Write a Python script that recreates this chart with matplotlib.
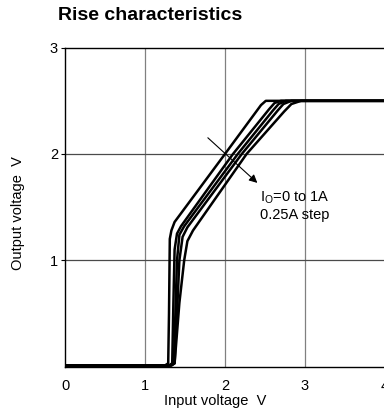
import matplotlib
matplotlib.use("Agg")
import matplotlib.pyplot as plt

plt.rcParams['font.family'] = ['Liberation Sans', 'DejaVu Sans']
plt.rcParams['mathtext.fontset'] = 'custom'
plt.rcParams['mathtext.rm'] = 'Liberation Sans'

title = "Rise characteristics"
xlabel = "Input voltage  V"
ylabel = "Output voltage  V"
xticks = [0, 1, 2, 3, 4]
yticks = [1, 2, 3]

# Io = 0 A
x_io0 = [0, 1.25, 1.29, 1.30, 1.31, 1.33, 1.37, 2.00, 2.45, 2.51, 2.57, 4.2]
y_io0 = [0.01, 0.01, 0.03, 0.50, 1.20, 1.28, 1.36, 2.00, 2.46, 2.50, 2.50, 2.50]
# Io = 0.25 A
x_io1 = [0, 1.30, 1.34, 1.355, 1.37, 1.40, 1.45, 2.10, 2.55, 2.62, 2.70, 4.2]
y_io1 = [0.01, 0.01, 0.03, 0.60, 1.10, 1.25, 1.32, 2.00, 2.42, 2.48, 2.50, 2.50]
# Io = 0.5 A
x_io2 = [0, 1.32, 1.36, 1.38, 1.40, 1.43, 1.49, 2.16, 2.60, 2.67, 2.76, 4.2]
y_io2 = [0.01, 0.01, 0.03, 0.50, 1.00, 1.24, 1.32, 2.00, 2.41, 2.47, 2.50, 2.50]
# Io = 0.75 A
x_io3 = [0, 1.33, 1.37, 1.40, 1.43, 1.47, 1.53, 2.21, 2.66, 2.73, 2.83, 4.2]
y_io3 = [0.01, 0.01, 0.03, 0.50, 1.00, 1.22, 1.31, 2.00, 2.41, 2.47, 2.50, 2.50]
# Io = 1 A
x_io4 = [0, 1.33, 1.37, 1.43, 1.49, 1.53, 1.60, 2.27, 2.74, 2.83, 2.95, 4.2]
y_io4 = [0.01, 0.01, 0.03, 0.60, 1.00, 1.18, 1.28, 2.00, 2.40, 2.47, 2.50, 2.50]

curves = [(x_io0, y_io0), (x_io1, y_io1), (x_io2, y_io2), (x_io3, y_io3), (x_io4, y_io4)]

W, H = 384, 412
fig = plt.figure(figsize=(W / 100, H / 100), dpi=100)
ax = fig.add_axes([65 / W, (H - 366.5) / H, 320 / W, (366.5 - 47.7) / H])

for xv in [1, 2, 3]:
    ax.axvline(xv, color='#808080', lw=0.9, zorder=1)
for yv in [1, 2]:
    ax.axhline(yv, color='#4a4a4a', lw=0.9, zorder=1)

for xs, ys in curves:
    ax.plot(xs, ys, color='black', lw=1.8, solid_joinstyle='round', zorder=3)

ax.set_xlim(0, 4)
ax.set_ylim(0, 3)
ax.set_xticks(xticks)
ax.set_yticks(yticks)
ax.set_xticklabels([str(t) for t in xticks])
ax.set_yticklabels([str(t) for t in yticks])
ax.tick_params(axis='x', length=0, pad=9, labelsize=10.5)
ax.tick_params(axis='y', length=3, width=0.8, pad=2, labelsize=10.5, direction='out')
for s in ax.spines.values():
    s.set_linewidth(1.0)
    s.set_color('black')

ax.annotate('', xy=(2.43, 1.71), xytext=(1.76, 2.17),
            arrowprops=dict(arrowstyle='-|>', lw=0.8, color='black', mutation_scale=12))
ax.text(2.44, 1.585, r"I$_{\rm O}$=0 to 1A", fontsize=10.5, va='center', ha='left')
ax.text(2.44, 1.425, "0.25A step", fontsize=10.5, va='center', ha='left')

fig.text(58 / W, 1 - 15 / H, title, fontsize=14, fontweight='bold', ha='left', va='center')
fig.text(18 / W, 1 - 213 / H, ylabel, fontsize=10.5, rotation=90, ha='center', va='center')
fig.text(215 / W, 1 - 400.5 / H, xlabel, fontsize=10.5, ha='center', va='center')

fig.savefig('out.png', dpi=100)
